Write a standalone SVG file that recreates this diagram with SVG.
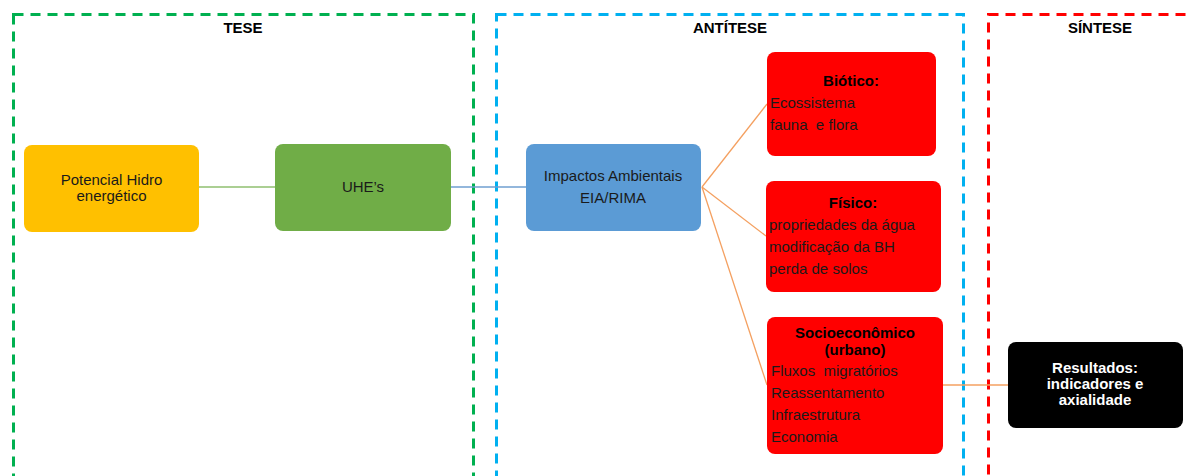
<svg xmlns="http://www.w3.org/2000/svg" width="1190" height="476" viewBox="0 0 1190 476">
<style>
text{font-family:"Liberation Sans",Arial,sans-serif;font-size:15px;fill:#1a1a1a;white-space:pre}
.h{font-weight:bold;fill:#000}
.frame{fill:none;stroke-width:3;stroke-dasharray:10,7}
.red{fill:#ff0000}
.c{text-anchor:middle}
</style>
<rect width="1190" height="476" fill="#fff"/>
<g id="frames">
<rect class="frame" x="13.5" y="14.5" width="460" height="480" stroke="#00b050"/>
<rect class="frame" x="496.5" y="14.5" width="467" height="480" stroke="#00b0f0"/>
<rect class="frame" x="988.5" y="14.5" width="260" height="480" stroke="#ff0000"/>
<text class="h c" x="243" y="33">TESE</text>
<text class="h c" x="730" y="33">ANTÍTESE</text>
<text class="h c" x="1100" y="33">SÍNTESE</text>
</g>
<g id="connectors" fill="none" stroke-width="1.3">
<line x1="199" y1="187" x2="275" y2="187" stroke="#8fbf6f"/>
<line x1="451" y1="187" x2="526" y2="187" stroke="#6f9fd0"/>
<g stroke="#f4a060">
<line x1="702" y1="187" x2="767" y2="104"/>
<line x1="702" y1="187" x2="766" y2="236"/>
<line x1="702" y1="187" x2="767" y2="385"/>
<line x1="943" y1="385" x2="1008" y2="385"/>
</g>
</g>
<g id="n-potencial">
<rect x="24" y="145" width="175" height="87" rx="8" fill="#ffc000"/>
<text class="c" x="111.5" y="185">Potencial Hidro</text>
<text class="c" x="111.5" y="201">energético</text>
</g>
<g id="n-uhe">
<rect x="275" y="144" width="176" height="87" rx="8" fill="#70ad47"/>
<text class="c" x="363" y="192">UHE’s</text>
</g>
<g id="n-impactos">
<rect x="526" y="144" width="175" height="87" rx="8" fill="#5b9bd5"/>
<text class="c" x="613" y="181">Impactos Ambientais</text>
<text class="c" x="613" y="203">EIA/RIMA</text>
</g>
<g id="n-biotico">
<rect x="767" y="52" width="169" height="104" rx="8" class="red"/>
<text class="h c" x="851" y="86">Biótico:</text>
<text x="770" y="108">Ecossistema</text>
<text x="770" y="130">fauna  e flora</text>
</g>
<g id="n-fisico">
<rect x="766" y="181" width="175" height="111" rx="8" class="red"/>
<text class="h c" x="853" y="208">Físico:</text>
<text x="769" y="230">propriedades da água</text>
<text x="769" y="252">modificação da BH</text>
<text x="769" y="274">perda de solos</text>
</g>
<g id="n-socio">
<rect x="767" y="317" width="176" height="137" rx="8" class="red"/>
<text class="h c" x="855" y="338">Socioeconômico</text>
<text class="h c" x="855" y="355">(urbano)</text>
<text x="771" y="376">Fluxos  migratórios</text>
<text x="771" y="398">Reassentamento</text>
<text x="771" y="420">Infraestrutura</text>
<text x="771" y="442">Economia</text>
</g>
<g id="n-resultados">
<rect x="1008" y="342" width="175" height="86" rx="8" fill="#000"/>
<text class="h c" x="1095" y="373" style="fill:#fff">Resultados:</text>
<text class="h c" x="1095" y="389" style="fill:#fff">indicadores e</text>
<text class="h c" x="1095" y="405" style="fill:#fff">axialidade</text>
</g>
</svg>
